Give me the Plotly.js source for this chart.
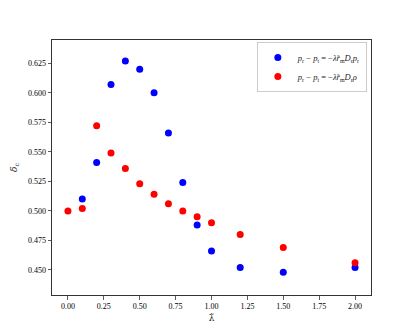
<!DOCTYPE html>
<html>
<head>
<meta charset="utf-8">
<script src="https://cdn.plot.ly/plotly-3.0.1.min.js"></script>
<style>
  html, body { margin: 0; padding: 0; background: #fff; }
  #plot { width: 412px; height: 332px; }
</style>
</head>
<body>
<div id="plot"></div>
<script>
// values
var lambdaBlue = [0.1, 0.2, 0.3, 0.4, 0.5, 0.6, 0.7, 0.8, 0.9, 1.0, 1.2, 1.5, 2.0];
var deltaBlue = [0.510, 0.541, 0.607, 0.627, 0.620, 0.600, 0.566, 0.524, 0.488, 0.466, 0.452, 0.448, 0.452];

var lambdaRed = [0.0, 0.1, 0.2, 0.3, 0.4, 0.5, 0.6, 0.7, 0.8, 0.9, 1.0, 1.2, 1.5, 2.0];
var deltaRed = [0.500, 0.502, 0.572, 0.549, 0.536, 0.523, 0.514, 0.506, 0.500, 0.495, 0.490, 0.480, 0.469, 0.456];

var xTicks = [0, 0.25, 0.5, 0.75, 1.0, 1.25, 1.5, 1.75, 2.0];
var yTicks = [0.45, 0.475, 0.5, 0.525, 0.55, 0.575, 0.6, 0.625];

var serif = 'DejaVu Serif, Liberation Serif, serif';
var tickSerif = 'Liberation Serif, DejaVu Serif, serif';

var data = [{
	x: lambdaBlue,
	y: deltaBlue,
	type: 'scatter',
	mode: 'markers',
	name: '<i>p</i><sub>r</sub> − <i>p</i><sub>t</sub> = −<i>λ̃r</i><sub>m</sub><i>D</i><sub>r</sub><i>p</i><sub>r</sub>',
	marker: { color: '#0000ff', size: 7 }
},
{
	x: lambdaRed,
	y: deltaRed,
	type: 'scatter',
	mode: 'markers',
	name: '<i>p</i><sub>r</sub> − <i>p</i><sub>t</sub> = −<i>λ̃r</i><sub>m</sub><i>D</i><sub>r</sub><i>ρ</i>',
	marker: { color: '#ff0000', size: 7 }
}];

var axisCommon = {
	showgrid: false,
	zeroline: false,
	showline: true,
	mirror: true,
	linecolor: '#333',
	linewidth: 1,
	ticks: 'outside',
	ticklen: 3.5,
	tickwidth: 0.8,
	tickcolor: '#333',
	tickfont: { family: tickSerif, size: 8, color: '#000' }
};

var layout = {
	width: 412,
	height: 332,
	margin: { l: 52, r: 41, t: 40, b: 37 },
	paper_bgcolor: '#fff',
	plot_bgcolor: '#fff',
	showlegend: true,
	legend: {
		x: 0.987, y: 0.992, xanchor: 'right', yanchor: 'top',
		bgcolor: 'rgba(255,255,255,0.8)',
		bordercolor: '#ccc',
		borderwidth: 1,
		font: { family: tickSerif, size: 8.5, color: '#222' },
		itemwidth: 30
	},
	xaxis: Object.assign({}, axisCommon, {
		range: [-0.111, 2.111],
		tickvals: xTicks,
		ticktext: xTicks.map(function (v) { return v.toFixed(2); }),
		title: { text: 'λ̃', font: { family: serif, size: 9, color: '#222' }, standoff: 4 }
	}),
	yaxis: Object.assign({}, axisCommon, {
		range: [0.4288, 0.6447],
		tickvals: yTicks,
		ticktext: yTicks.map(function (v) { return v.toFixed(3); }),
		title: { text: '<i>δ</i><sub>c</sub>', font: { family: serif, size: 9, color: '#222' }, standoff: 8 }
	})
};

Plotly.newPlot('plot', data, layout, { displayModeBar: false, staticPlot: true });
</script>
</body>
</html>
